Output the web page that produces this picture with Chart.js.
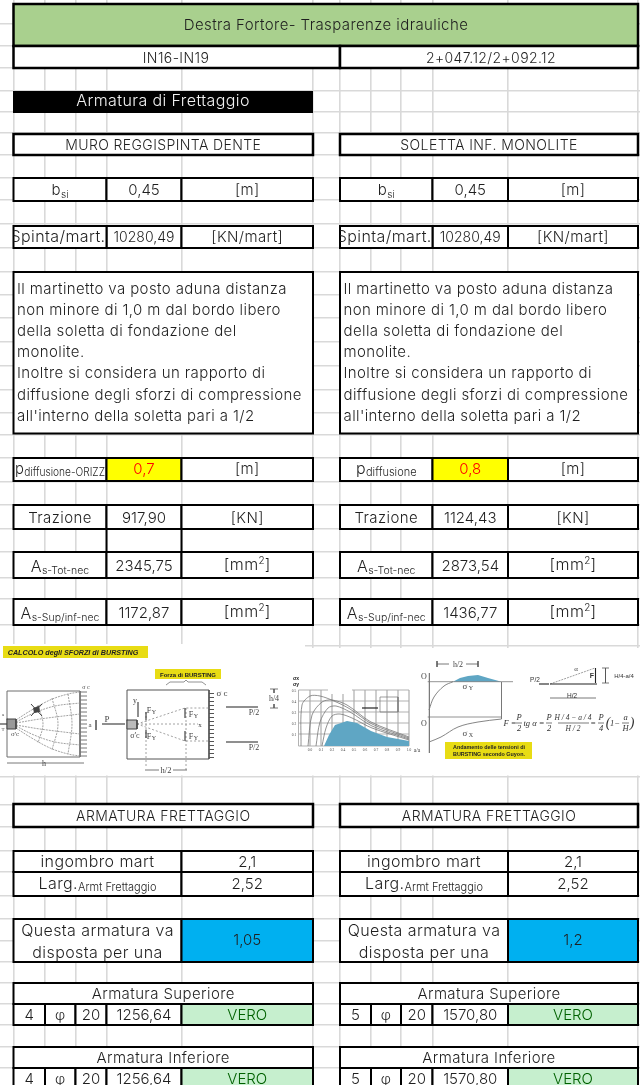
<!DOCTYPE html>
<html>
<head>
<meta charset="utf-8">
<title>Armatura di Frettaggio</title>
<script src="https://cdn.jsdelivr.net/npm/chart.js@4"></script>
<style>
  html, body { margin: 0; padding: 0; background: #fff; }
  canvas { display: block; }
</style>
</head>
<body>
<canvas id="sheet" width="640" height="1085"></canvas>
<script>
// --- values read from the sheet (left panel, right panel) ---
const sheetTitle = 'Destra Fortore- Trasparenze idrauliche';
const sectionIds = ['IN16-IN19', '2+047.12/2+092.12'];
const blockTitle = 'Armatura di Frettaggio';
const panelTitles = ['MURO REGGISPINTA DENTE', 'SOLETTA INF. MONOLITE'];
const bsiValues = ['0,45', '0,45'];
const thrustValues = ['10280,49', '10280,49'];
const noteLines = [
  'Il martinetto va posto aduna distanza',
  'non minore di 1,0 m dal bordo libero',
  'della soletta di fondazione del',
  'monolite.',
  'Inoltre si considera un rapporto di',
  'diffusione degli sforzi di compressione',
  "all'interno della soletta pari a 1/2"
];
const diffusionSubs = ['diffusione-ORIZZ', 'diffusione'];
const diffusionValues = ['0,7', '0,8'];
const tractionValues = ['917,90', '1124,43'];
const asTotValues = ['2345,75', '2873,54'];
const asSupInfValues = ['1172,87', '1436,77'];
const footprintValues = ['2,1', '2,1'];
const widthValues = ['2,52', '2,52'];
const spreadValues = ['1,05', '1,2'];
const barCounts = ['4', '5'];
const barDiameters = ['20', '20'];
const barAreas = ['1256,64', '1570,80'];
const checkText = 'VERO';

// --- sheet grid lines ---
const gridCols = [13.5, 45, 75.5, 106.5, 181.5, 313, 340, 371, 401, 432.5, 508, 638];
const gridRows = [24, 46, 68, 91, 112, 133, 155, 178, 200, 224, 248, 272, 295, 318, 342, 366, 390, 413, 435,
  458, 482, 505, 529, 552, 578, 599, 625, 646, 777, 805, 827, 851, 872, 896, 919, 941, 962, 983, 1004, 1025, 1047, 1068];

// --- figure outlines ---
const fanRect = [[7,691],[80,691],[80,757],[7,757],[7,691]];
const fanEnvelopes = [
  [[16,720],[30,711],[50,700],[68,694],[80,692]],
  [[16,728],[30,737],[50,748],[68,754],[80,756]],
  [[16,722],[34,713],[55,706],[80,703]],
  [[16,726],[34,735],[55,742],[80,745]],
  [[16,723],[40,719],[80,714]],
  [[16,725],[40,729],[80,734]],
  [[38,705],[43,724],[38,743]],
  [[52,698],[58,724],[52,750]],
  [[68,694],[72,724],[68,754]]
];
const hatchRows = [692,696,700,704,708,712,716,720,724,728,732,736,740,744,748,752,756];
const prismRect = [[127,690],[209,690],[209,759],[127,759],[127,690]];
const prismLines = [
  [[137,724],[185,708],[209,708]],
  [[137,724],[185,741],[209,741]],
  [[137,724],[198,724]],
  [[146,712],[146,766]],
  [[186,708],[186,770]]
];
const prismArrows = [
  [[146,712],[146,720]], [[146,730],[146,738]], [[185,708],[185,718]], [[185,741],[185,731]],
  [[138,717],[138,702]], [[226,707],[258,707]], [[226,742],[258,742]], [[102,724],[125,724]],
  [[0,724],[7,724]]
];
const dimLines = [
  [[7,763],[84,763]], [[96,720],[96,730]], [[145,770],[159,770]], [[173,770],[187,770]],
  [[274,689],[274,693]], [[274,704],[274,708]], [[270,689],[278,689]], [[270,708],[278,708]],
  [[437,664],[449,664]], [[466,664],[478,664]], [[437,661],[437,667]], [[478,661],[478,667]],
  [[550,698],[596,698]], [[605.5,668],[605.5,683]], [[602,668],[609,668]], [[602,683],[609,683]]
];
const braceLine = [[166,685],[170,682],[184,682],[186,680],[188,682],[202,682],[206,685]];
const plotGridRows = [690,701,712,723,734,746];
const plotGridCols = [298.5,310,321,332,343,354,365,376,387,398,409];
const plotCurves = [
  [[301,746],[302,705],[310,696],[320,696],[334,701],[350,709],[372,724],[409,738]],
  [[308,746],[312,715],[322,702],[332,700],[347,705],[371,722],[409,737]],
  [[316,746],[320,722],[328,708],[336,706],[350,712],[372,726],[409,739]],
  [[322,746],[326,728],[332,716],[340,714],[352,718],[372,728],[409,740]]
];
const plotWedge = [[324,746],[329,735],[335,725],[347,721],[357,723],[371,731],[387,737],[409,741],[409,746],[324,746]];
const stressBump = [[453,681.7],[460,678],[468,676],[478,675],[488,678],[501.5,681.7],[453,681.7]];
const stressLines = [
  [[429.4,673],[429.4,753]],
  [[427.7,681.7],[513,681.7]],
  [[427.7,717],[502,717]],
  [[501.5,682],[501.5,719]]
];
const stressCurves = [
  [[429,710],[434,697],[444,686],[453,681.7]],
  [[429,742],[441,737],[458,727],[478,722],[501.5,719]]
];
const forceTriangle = [[550,684],[595,668]];
const forceLegs = [[[550,684],[597,684]], [[595.5,668],[595.5,683]], [[539,684],[549,684]]];
const fractionBars = [[516,522],[546,552],[558,589],[598,604],[622,629]];
const noteBadges = [
  [[3,646],[148,646],[148,658],[3,658],[3,646]],
  [[155,669],[221,669],[221,679],[155,679],[155,669]],
  [[445,742],[532,742],[532,759],[445,759],[445,742]]
];

// --- styles / layout ---
const FONT = 'Inter';
const INK = '#1f1f1f';
const datasets = [];
const labels = [];

function line(points, color, width, extra) {
  datasets.push(Object.assign({
    data: points.map(p => ({ x: p[0], y: p[1] })),
    borderColor: color, borderWidth: width, backgroundColor: 'transparent',
    pointRadius: 0, fill: false, tension: 0, borderJoinStyle: 'miter', borderCapStyle: 'butt'
  }, extra || {}));
}

function area(points, fillColor, borderColor, width) {
  line(points, borderColor || fillColor, width || 0, { fill: 'shape', backgroundColor: fillColor, borderCapStyle: 'square' });
}

function box(x0, x1, y0, y1, fillColor, width) {
  area([[x0, y0], [x1, y0], [x1, y1], [x0, y1], [x0, y0]], fillColor || '#ffffff', '#000000', width || 2);
}

function text(pieces, x, y, opts) {
  labels.push(Object.assign({ pieces: typeof pieces === 'string' ? [[pieces]] : pieces, x, y, size: 15, color: INK, align: 'center' }, opts || {}));
}

// Sheet blocks
box(gridCols[0], gridCols[11], 4, 46, '#a9d08e', 2.5);
box(gridCols[0], gridCols[6], 46, 68, '#ffffff', 2.5);
box(gridCols[6], gridCols[11], 46, 68, '#ffffff', 2.5);
text(sheetTitle, 326, 30, { size: 15 });
text(sectionIds[0], 176, 62.5, { size: 14 });
text(sectionIds[1], 491, 62.5, { size: 14 });
area([[13, 91], [313, 91], [313, 113], [13, 113], [13, 91]], '#000000');
text(blockTitle, 163, 106, { size: 16, color: '#f2f2f2' });

[0, 1].forEach(p => {
  const c = i => gridCols[i + (p ? 6 : 0)];
  const mid = (a, b) => (c(a) + c(b)) / 2;
  const subFont = 10.5;

  box(c(0), c(5), 134, 155, '#ffffff', 2.5);
  text(panelTitles[p], mid(0, 5), 150, { size: 14 });

  box(c(0), c(3), 178, 201); box(c(3), c(4), 178, 201); box(c(4), c(5), 178, 201);
  text([['b'], ['si', 10, 3]], mid(0, 3), 195);
  text(bsiValues[p], mid(3, 4), 194.5);
  text('[m]', mid(4, 5), 194.5);

  box(c(3), c(4), 226, 248); box(c(4), c(5), 226, 248); box(c(0), c(3), 226, 248);
  text('Spinta/mart.', mid(0, 3) - 2, 242, { clip: [c(0), c(3)], size: 16 });
  text(thrustValues[p], mid(3, 4), 242, { size: 14 });
  text('[KN/mart]', mid(4, 5), 242);

  box(c(0), c(5), 272, 433.5);
  noteLines.forEach((s, i) => text(s, c(0) + 3.5, 294 + i * 21.1, { align: 'left', size: 15 }));

  box(c(0), c(3), 458, 481); box(c(3), c(4), 458, 481, '#ffff00'); box(c(4), c(5), 458, 481);
  text([['p', 16], [diffusionSubs[p], 11, 2]], mid(0, 3), 473.5, { fitTo: 90 });
  text(diffusionValues[p], mid(3, 4), 474, { color: '#ff0000' });
  text('[m]', mid(4, 5), 474);

  box(c(0), c(3), 505, 529); box(c(3), c(4), 505, 529); box(c(4), c(5), 505, 529);
  text('Trazione', mid(0, 3), 523, { size: 15 });
  text(tractionValues[p], mid(3, 4), 523);
  text('[KN]', mid(4, 5), 523);
  if (p === 0) { line([[c(3), 529], [c(3), 552]], '#000000', 2); line([[c(4), 529], [c(4), 552]], '#000000', 2); }

  [[552, 578, 'A', 's-Tot-nec', asTotValues], [599, 625, 'A', 's-Sup/inf-nec', asSupInfValues]].forEach(r => {
    box(c(0), c(3), r[0], r[1]); box(c(3), c(4), r[0], r[1]); box(c(4), c(5), r[0], r[1]);
    text([[r[2], 16], [r[3], subFont, 2]], mid(0, 3), r[0] + 20);
    text(r[4][p], mid(3, 4), r[0] + 19);
    text([['[mm'], ['2', 10, -6], [']']], mid(4, 5), r[0] + 18, { size: 16 });
  });

  box(c(0), c(5), 804, 827, '#ffffff', 2.5);
  text('ARMATURA FRETTAGGIO', mid(0, 5), 820.5, { size: 14 });

  box(c(0), c(4), 851, 872); box(c(4), c(5), 851, 872);
  box(c(0), c(4), 872, 896); box(c(4), c(5), 872, 896);
  text('ingombro mart', mid(0, 4), 867, { size: 16 });
  text(footprintValues[p], mid(4, 5), 867);
  text([['Larg.', 16], ['Armt Frettaggio', 11, 2]], mid(0, 4), 889);
  text(widthValues[p], mid(4, 5), 889);

  box(c(0), c(4), 919, 962); box(c(4), c(5), 919, 962, '#00b0f0');
  text('Questa armatura va', mid(0, 4), 935.5, { size: 16 });
  text('disposta per una', mid(0, 4), 957.5, { size: 16 });
  text(spreadValues[p], mid(4, 5), 945);

  [[983, 'Armatura Superiore'], [1047, 'Armatura Inferiore']].forEach(r => {
    const y = r[0];
    box(c(0), c(5), y, y + 21);
    text(r[1], mid(0, 5), y + 15.5);
    box(c(0), c(1), y + 21, y + 42); box(c(1), c(2), y + 21, y + 42); box(c(2), c(3), y + 21, y + 42);
    box(c(3), c(4), y + 21, y + 42); box(c(4), c(5), y + 21, y + 42, '#c6efce');
    text(barCounts[p], mid(0, 1), y + 36.5);
    text('φ', mid(1, 2), y + 36.5, { size: 14 });
    text(barDiameters[p], mid(2, 3), y + 36.5);
    text(barAreas[p], mid(3, 4), y + 36.5);
    text(checkText, mid(4, 5), y + 36.5, { color: '#006100', ls: 0 });
  });
});

// Pasted picture
area([[0, 644], [305, 644], [305, 648], [640, 648], [640, 775.5], [0, 775.5], [0, 644]], '#ffffff');
noteBadges.forEach(b => area(b, '#e8dc14'));

const grayInk = '#6f6f6f';
line(fanRect, grayInk, 1);
fanEnvelopes.forEach(l => line(l, '#8a8a8a', 0.8, { tension: 0.35, borderDash: [2, 1] }));
line(prismRect, '#555555', 1);
prismLines.forEach(l => line(l, '#8a8a8a', 0.8, { borderDash: [2, 2] }));
prismArrows.forEach(l => line(l, '#333333', 1.1));
dimLines.forEach(l => line(l, '#555555', 0.8));
line(braceLine, '#777777', 0.8);
hatchRows.forEach(y => {
  line([[80, y], [87, y]], '#777777', 1);
  line([[209, y + 1.5], [214, y + 1.5]], '#555555', 1);
});
area([[7, 719], [16, 719], [16, 729], [7, 729], [7, 719]], '#999999', '#444444', 1);
area([[127, 720], [137, 720], [137, 729], [127, 729], [127, 720]], '#bbbbbb', '#444444', 1);
line([[31, 704], [42, 716]], '#444444', 1);
line([[42, 704], [31, 716]], '#444444', 1);
area([[33, 708], [39, 706], [40, 712], [34, 713], [33, 708]], '#444444');

plotGridRows.forEach(y => line([[298.5, y], [409, y]], '#8f8f8f', 0.7));
plotGridCols.forEach(x => line([[x, 690], [x, 746]], '#a8a8a8', 0.5));
area(plotWedge, '#5fa6c4');
plotCurves.forEach(l => line(l, '#777777', 0.8, { tension: 0.3 }));
area([[328, 688], [352, 688], [352, 694], [328, 694], [328, 688]], '#ffffff');
line([[380, 697], [398, 697], [398, 712], [380, 712], [380, 697]], '#777777', 0.7);
line([[362, 708], [378, 708]], '#222222', 1.2);

area(stressBump, '#5fa6c4');
stressLines.forEach(l => line(l, '#777777', 0.8));
stressCurves.forEach(l => line(l, '#777777', 0.9, { tension: 0.35 }));
line(forceTriangle, '#888888', 0.8, { borderDash: [2, 1] });
forceLegs.forEach(l => line(l, '#222222', 1.1));
fractionBars.forEach(b => line([[b[0], 723], [b[1], 723]], '#444444', 0.7));

const smallText = (s, x, y, size, color, extra) =>
  text(s, x, y, Object.assign({ size, color: color || '#444444', family: 'Liberation Serif', weight: 400, ls: 0 }, extra || {}));
const tagText = (s, x, y, size) =>
  text(s, x, y, { size, color: '#222222', family: 'Liberation Sans', weight: 700, ls: 0 });

text('CALCOLO degli SFORZI di BURSTING', 73, 655, { size: 7.2, color: '#222222', family: 'Liberation Sans', weight: 700, italic: true, ls: 0 });
tagText('Forza di BURSTING', 188, 677, 6);
tagText('Andamento delle tensioni di', 489, 749, 5.4);
tagText('BURSTING secondo Guyon.', 489, 756, 5.4);
smallText('σ c', 86, 689, 6); smallText('σ\'c', 15, 736, 7); smallText('a', 90, 727, 7);
smallText('P', 107, 722, 9); smallText('h', 44, 766, 8); smallText('a', 3, 716, 5); smallText('T', 3, 731, 5);
smallText('σ c', 222, 696, 9); smallText('y', 135, 703, 8); smallText('x', 200, 727, 7); smallText('σ\'c', 135, 738, 8);
smallText('F', 149, 713, 8); smallText('Y', 154, 714, 6); smallText('F', 149, 739, 8); smallText('Y', 154, 740, 6);
smallText('F', 191, 717, 8); smallText('Y', 196, 718, 6); smallText('F', 191, 739, 8); smallText('Y', 196, 740, 6);
smallText('h/2', 166, 773, 8.5); smallText('P/2', 254, 715, 8); smallText('P/2', 254, 750, 8); smallText('h/4', 274, 701, 8);
tagText('σx', 296, 680, 5); tagText('σy', 296, 686, 5);
['0.5', '0.4', '0.3', '0.2', '0.1'].forEach((t, i) => smallText(t, 294, 692 + i * 11, 3.5));
['0.0', '0.1', '0.2', '0.4', '0.5', '0.6', '0.7', '0.8', '0.9', '1.0'].forEach((t, i) => smallText(t, 310 + i * 11, 751, 3.5));
smallText('a/a', 417, 752, 5.5, '#333333');
smallText('O', 424, 679, 8); smallText('O', 424, 726, 8);
smallText('h/2', 458, 667, 8); smallText('σ', 465, 689, 9); smallText('Y', 471, 690, 6); smallText('σ', 465, 736, 9); smallText('X', 471, 737, 6);
text('P/2', 535, 682, { size: 6.5, color: '#333333', family: 'Liberation Sans', weight: 400, ls: 0 });
text('H/2', 572, 698, { size: 6.5, color: '#333333', family: 'Liberation Sans', weight: 400, ls: 0 });
text('H/4-a/4', 624, 678, { size: 6, color: '#333333', family: 'Liberation Sans', weight: 400, ls: 0 });
smallText('α', 576, 671, 7); text('F', 592, 678, { size: 7, color: '#333333', family: 'Liberation Sans', weight: 700, ls: 0 });
const formula = (s, x, y, size) => smallText(s, x, y, size || 8.5, '#333333', { italic: true });
formula('F =', 510, 726); formula('P', 519, 720); formula('2', 519, 731); formula('tg α =', 534, 726);
formula('P', 549, 720); formula('2', 549, 731); formula('H / 4 − a / 4', 573, 720, 7.5); formula('H / 2', 573, 731, 7.5);
formula('=', 593, 726); formula('P', 601, 720); formula('4', 601, 731); formula('(', 608, 727, 14);
formula('1−', 615, 726); formula('a', 625.5, 720); formula('H', 625.5, 731); formula(')', 632, 727, 14);

// Sheet text is painted by a small plugin, positioned through the chart's own scales
const spacingFor = (l, p) => {
  if (l.ls !== undefined) return l.ls;
  if ((p[1] || l.size) < 12 || /^[\d,]+$/.test(p[0])) return 0;
  return 0.4;
};

const textPlugin = {
  id: 'sheetText',
  afterDatasetsDraw(chart) {
    const ctx = chart.ctx;
    const sx = chart.scales.x;
    const sy = chart.scales.y;
    labels.forEach(l => {
      const fontOf = size => `${l.italic ? 'italic ' : ''}${l.weight || 300} ${size}px "${l.family || FONT}"`;
      ctx.save();
      const widths = l.pieces.map(p => {
        ctx.font = fontOf(p[1] || l.size);
        ctx.letterSpacing = spacingFor(l, p) + 'px';
        return ctx.measureText(p[0]).width;
      });
      const total = widths.reduce((a, b) => a + b, 0);
      const squeeze = l.fitTo && total > l.fitTo ? l.fitTo / total : 1;
      const px = sx.getPixelForValue(l.x);
      const py = sy.getPixelForValue(l.y);
      if (l.clip) {
        ctx.beginPath();
        ctx.rect(sx.getPixelForValue(l.clip[0]), py - 20, l.clip[1] - l.clip[0], 30);
        ctx.clip();
      }
      ctx.fillStyle = l.color;
      ctx.textAlign = 'left';
      ctx.textBaseline = 'alphabetic';
      let cur = l.align === 'left' ? px : px - total * squeeze / 2;
      l.pieces.forEach((p, i) => {
        ctx.font = fontOf(p[1] || l.size);
        ctx.letterSpacing = spacingFor(l, p) + 'px';
        ctx.fillText(p[0], cur, py + (p[2] || 0), widths[i] * squeeze);
        cur += widths[i] * squeeze;
      });
      ctx.restore();
    });
  }
};

const hiddenAxis = (min, max, ticksList, reverse) => ({
  type: 'linear', min, max, reverse: !!reverse,
  afterBuildTicks: axis => { axis.ticks = ticksList.map(v => ({ value: v })); },
  ticks: { display: false },
  grid: { color: '#d9d9d9', lineWidth: 1.6, drawTicks: false },
  border: { display: false }
});

// Chart.js paints the first dataset last, so flip to keep the build order
new Chart(document.getElementById('sheet'), {
  type: 'line',
  data: { datasets: datasets.reverse() },
  options: {
    responsive: false,
    animation: false,
    parsing: { xAxisKey: 'x', yAxisKey: 'y' },
    layout: { padding: 0 },
    plugins: { legend: { display: false }, tooltip: { enabled: false }, title: { display: false } },
    scales: {
      x: hiddenAxis(0, 640, gridCols),
      y: hiddenAxis(0, 1085, gridRows, true)
    }
  },
  plugins: [textPlugin]
});
</script>
</body>
</html>
